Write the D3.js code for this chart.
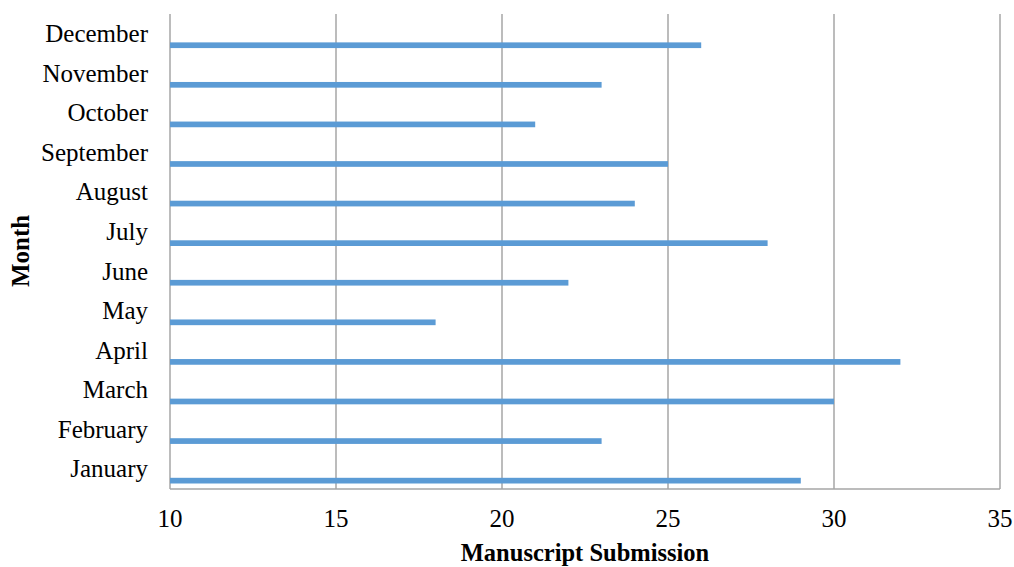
<!DOCTYPE html>
<html>
<head>
<meta charset="utf-8">
<script src="https://cdn.jsdelivr.net/npm/d3@7"></script>
<style>
  body { margin: 0; background: #fff; }
  text { font-family: "Liberation Serif", "Times New Roman", serif; fill: #000; }
</style>
</head>
<body>
<div id="chart"></div>
<script>
// month names, bottom to top as in the picture
var months = ["January", "February", "March", "April", "May", "June",
  "July", "August", "September", "October", "November", "December"];
// manuscripts submitted per month
var submissions = [29, 23, 30, 32, 18, 22, 28, 24, 25, 21, 23, 26];
// x axis ticks
var xTicks = [10, 15, 20, 25, 30, 35];

var svgWidth = 1014;
var svgHeight = 567;

// plot area edges
var margin = { top: 14, right: 14, bottom: 78, left: 170 };
var width = svgWidth - margin.left - margin.right;
var height = svgHeight - margin.top - margin.bottom;

var svg = d3.select("#chart")
  .append("svg")
  .attr("width", svgWidth)
  .attr("height", svgHeight);

var chartGroup = svg.append("g")
  .attr("transform", `translate(${margin.left}, ${margin.top})`);

var data = months.map(function(m, i) { return { month: m, value: submissions[i] }; });

var xScale = d3.scaleLinear()
  .domain([10, 35])
  .range([0, width]);

// december at the top
var yScale = d3.scaleBand()
  .domain(months.slice().reverse())
  .range([0, height]);

// vertical gridlines
chartGroup.selectAll(".grid")
  .data(xTicks)
  .enter()
  .append("line")
  .attr("x1", d => xScale(d))
  .attr("x2", d => xScale(d))
  .attr("y1", 0)
  .attr("y2", height)
  .attr("stroke", "#a6a6a6")
  .attr("stroke-width", 1.5);

// bottom axis line
chartGroup.append("line")
  .attr("x1", 0)
  .attr("x2", width)
  .attr("y1", height)
  .attr("y2", height)
  .attr("stroke", "#a6a6a6")
  .attr("stroke-width", 1.5);

// thin bars sit at the bottom of each band
var barH = 5.7;
chartGroup.selectAll(".bar")
  .data(data)
  .enter()
  .append("rect")
  .attr("x", xScale(10))
  .attr("y", d => yScale(d.month) + yScale.bandwidth() - 11.2)
  .attr("width", d => xScale(d.value) - xScale(10))
  .attr("height", barH)
  .attr("fill", "#5b9bd5");

// month labels
chartGroup.selectAll(".monthLabel")
  .data(months)
  .enter()
  .append("text")
  .attr("x", -22)
  .attr("y", d => yScale(d) + yScale.bandwidth() / 2)
  .attr("dy", "0.33em")
  .attr("text-anchor", "end")
  .attr("font-size", "25px")
  .text(d => d);

// x tick labels
chartGroup.selectAll(".xTick")
  .data(xTicks)
  .enter()
  .append("text")
  .attr("x", d => xScale(d))
  .attr("y", height + 38)
  .attr("text-anchor", "middle")
  .attr("font-size", "25px")
  .text(d => d);

// axis titles
svg.append("text")
  .attr("x", margin.left + width / 2)
  .attr("y", 561)
  .attr("text-anchor", "middle")
  .attr("font-size", "24.5px")
  .attr("font-weight", "bold")
  .text("Manuscript Submission");

svg.append("text")
  .attr("transform", "translate(29, 251) rotate(-90)")
  .attr("text-anchor", "middle")
  .attr("font-size", "25px")
  .attr("font-weight", "bold")
  .text("Month");
</script>
</body>
</html>
